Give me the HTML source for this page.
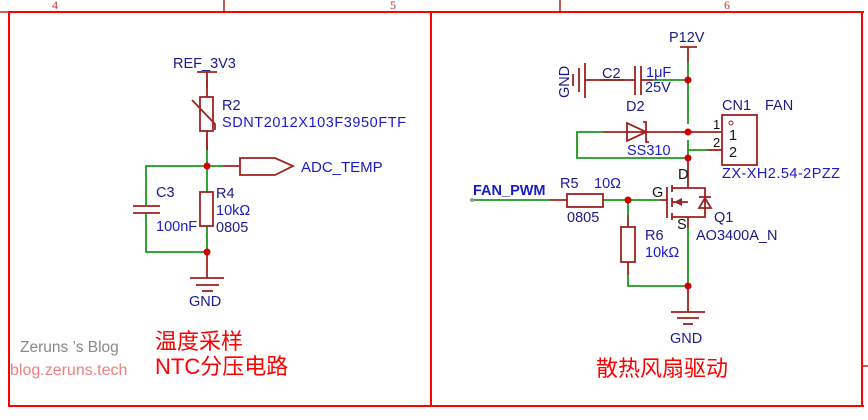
<!DOCTYPE html><html><head><meta charset="utf-8"><style>body{margin:0;background:#fff}svg{display:block}
.t{font-family:"Liberation Sans","Noto Sans CJK SC",sans-serif;font-size:14.5px}
.b{fill:#1a1acc}.k{fill:#111}</style></head><body>
<svg width="868" height="420" viewBox="0 0 868 420" xmlns="http://www.w3.org/2000/svg">
<g fill="none" stroke="#a00" stroke-width="1.3">
<line x1="0" y1="12" x2="864" y2="12"/><line x1="224" y1="0" x2="224" y2="12"/><line x1="560" y1="0" x2="560" y2="12"/>
<line x1="862" y1="366" x2="868" y2="366"/>
</g>
<g fill="none" stroke="#f00" stroke-width="2">
<line x1="9" y1="11" x2="9" y2="406"/><line x1="431" y1="11" x2="431" y2="406"/><line x1="862" y1="11" x2="862" y2="406"/>
<line x1="8" y1="406" x2="864" y2="406"/><line x1="8" y1="12" x2="864" y2="12"/>
</g>
<g font-family="Liberation Serif,serif" font-size="12" fill="#b33"><text x="52" y="9">4</text><text x="390" y="9">5</text><text x="724" y="9">6</text></g>

<!-- left circuit -->
<g fill="none" stroke-width="1.8">
<g stroke="#1a9a1a">
<polyline points="207,80 207,88"/><polyline points="207,140 207,192"/><polyline points="146,205 146,166 223,166"/>
<polyline points="146,213 146,252 207,252 207,226"/></g>
<g stroke="#a02020">
<line x1="197" y1="72" x2="217" y2="72"/><line x1="207" y1="72" x2="207" y2="97"/>
<rect x="200" y="97" width="13" height="34"/><polyline points="192,100 215,124 215,130"/>
<line x1="207" y1="131" x2="207" y2="150"/>
<line x1="223" y1="166" x2="240" y2="166"/><polygon points="240,158 275,158 293,166 275,175 240,175"/>
<line x1="133" y1="206" x2="160" y2="206"/><line x1="133" y1="213" x2="160" y2="213"/>
<rect x="200" y="192" width="13" height="34"/>
<line x1="207" y1="252" x2="207" y2="278"/><line x1="190" y1="278" x2="224" y2="278"/><line x1="196" y1="285" x2="219" y2="285"/><line x1="202" y1="291" x2="213" y2="291"/>
</g></g>
<g fill="#c00"><circle cx="207" cy="166" r="3.5"/><circle cx="207" cy="252" r="3.5"/></g>
<g class="t">
<text x="173" y="68" fill="#1a1a8c">REF_3V3</text>
<text x="222" y="110" fill="#1a1a8c">R2</text><text x="222" y="127" class="b" textLength="184">SDNT2012X103F3950FTF</text>
<text x="301" y="172" class="b" font-size="15">ADC_TEMP</text>
<text x="156" y="197" fill="#1a1a8c">C3</text><text x="156" y="231" class="b">100nF</text>
<text x="216" y="198" fill="#1a1a8c">R4</text><text x="216" y="215" class="b">10kΩ</text><text x="216" y="232" fill="#1a1a8c">0805</text>
<text x="189" y="306" fill="#1a1a8c">GND</text>
</g>

<!-- right circuit -->
<g fill="none" stroke-width="1.8">
<g stroke="#1a9a1a">
<polyline points="688,62 688,124"/><polyline points="688,140 688,150 707,150"/><polyline points="688,150 688,158"/>
<polyline points="603,132 577,132 577,158 688,158"/><polyline points="653,80 688,80"/><polyline points="600,80 625,80"/>
<polyline points="472,200 550,200"/><polyline points="603,200 660,200"/><polyline points="688,228 688,286 628,286 628,275"/>
<polyline points="628,200 628,215"/>
</g>
<g stroke="#a02020">
<line x1="680" y1="47" x2="697" y2="47"/><line x1="688" y1="47" x2="688" y2="62"/>
<line x1="641" y1="80" x2="653" y2="80"/><line x1="641" y1="66" x2="641" y2="95"/><line x1="635" y1="66" x2="635" y2="95"/><line x1="585" y1="80" x2="635" y2="80"/>
<line x1="585" y1="63" x2="585" y2="98"/><line x1="579" y1="68" x2="579" y2="92"/><line x1="573" y1="74" x2="573" y2="86"/>
<line x1="603" y1="132" x2="688" y2="132"/><polygon points="627,123 627,141 646,132"/><polyline points="643,122 646,122 646,142 649,142"/>
<line x1="688" y1="132" x2="722" y2="132"/><line x1="707" y1="150" x2="722" y2="150"/>
<rect x="722" y="115" width="35" height="50"/><circle cx="731" cy="123" r="2" stroke-width="1"/>
<line x1="688" y1="158" x2="688" y2="188"/><polyline points="688,188 705,188 705,217 688,217"/><line x1="688" y1="188" x2="672" y2="188"/><line x1="688" y1="217" x2="672" y2="217"/><line x1="688" y1="217" x2="688" y2="228"/>
<line x1="672" y1="202" x2="688" y2="202"/><line x1="672" y1="185" x2="672" y2="192"/><line x1="672" y1="198" x2="672" y2="207"/><line x1="672" y1="213" x2="672" y2="220"/>
<line x1="667" y1="187" x2="667" y2="218"/><line x1="660" y1="200" x2="667" y2="200"/>
<polygon points="699,208 711,208 705,198" /><line x1="699" y1="197" x2="711" y2="197"/>
<line x1="550" y1="200" x2="567" y2="200"/><rect x="567" y="194" width="36" height="13"/>
<line x1="628" y1="215" x2="628" y2="227"/><rect x="621" y="227" width="14" height="35"/><line x1="628" y1="262" x2="628" y2="275"/>
<line x1="688" y1="286" x2="688" y2="312"/><line x1="671" y1="312" x2="705" y2="312"/><line x1="677" y1="318" x2="699" y2="318"/><line x1="683" y1="324" x2="693" y2="324"/>
</g></g>
<polygon points="674,202 682,198 682,206" fill="#a02020"/>
<g fill="#c00"><circle cx="688" cy="80" r="3.5"/><circle cx="688" cy="132" r="3.5"/><circle cx="688" cy="158" r="3.5"/><circle cx="628" cy="200" r="3.5"/><circle cx="688" cy="286" r="3.5"/></g>
<circle cx="472" cy="200" r="2" fill="#999"/>
<g class="t">
<text x="669" y="42" fill="#1a1a8c">P12V</text>
<text x="569" y="98" fill="#1a1a8c" transform="rotate(-90 569 98)">GND</text>
<text x="602" y="78" fill="#1a1a8c">C2</text><text x="646" y="77" class="b">1μF</text><text x="645" y="92" fill="#1a1a8c">25V</text>
<text x="626" y="111" fill="#1a1a8c">D2</text><text x="627" y="155" class="b">SS310</text>
<text x="722" y="110" fill="#1a1a8c">CN1</text><text x="765" y="110" fill="#1a1a8c">FAN</text>
<text x="713" y="129" class="k" font-size="13">1</text><text x="713" y="147" class="k" font-size="13">2</text>
<text x="729" y="140" class="k">1</text><text x="729" y="157" class="k">2</text>
<text x="722" y="178" class="b" textLength="118">ZX-XH2.54-2PZZ</text>
<text x="678" y="179" class="k">D</text><text x="652" y="197" class="k">G</text><text x="677" y="229" class="k">S</text>
<text x="714" y="222" fill="#1a1a8c">Q1</text><text x="696" y="240" fill="#1a1a8c">AO3400A_N</text>
<text x="473" y="195" class="b" font-weight="bold">FAN_PWM</text>
<text x="560" y="188" fill="#1a1a8c">R5</text><text x="594" y="188" class="b">10Ω</text><text x="567" y="222" fill="#1a1a8c">0805</text>
<text x="645" y="240" fill="#1a1a8c">R6</text><text x="645" y="257" class="b">10kΩ</text>
<text x="670" y="343" fill="#1a1a8c">GND</text>
</g>
<g font-family="Liberation Sans,'Noto Sans CJK SC',sans-serif" fill="#f00" font-size="22">
<text x="155" y="349">温度采样</text><text x="155" y="374">NTC分压电路</text><text x="596" y="376">散热风扇驱动</text></g>
<text x="20" y="352" font-family="Liberation Sans,sans-serif" font-size="15.5" fill="#888">Zeruns ’s Blog</text>
<text x="10" y="375" font-family="Liberation Sans,sans-serif" font-size="16" fill="#f08080">blog.zeruns.tech</text>
</svg></body></html>
